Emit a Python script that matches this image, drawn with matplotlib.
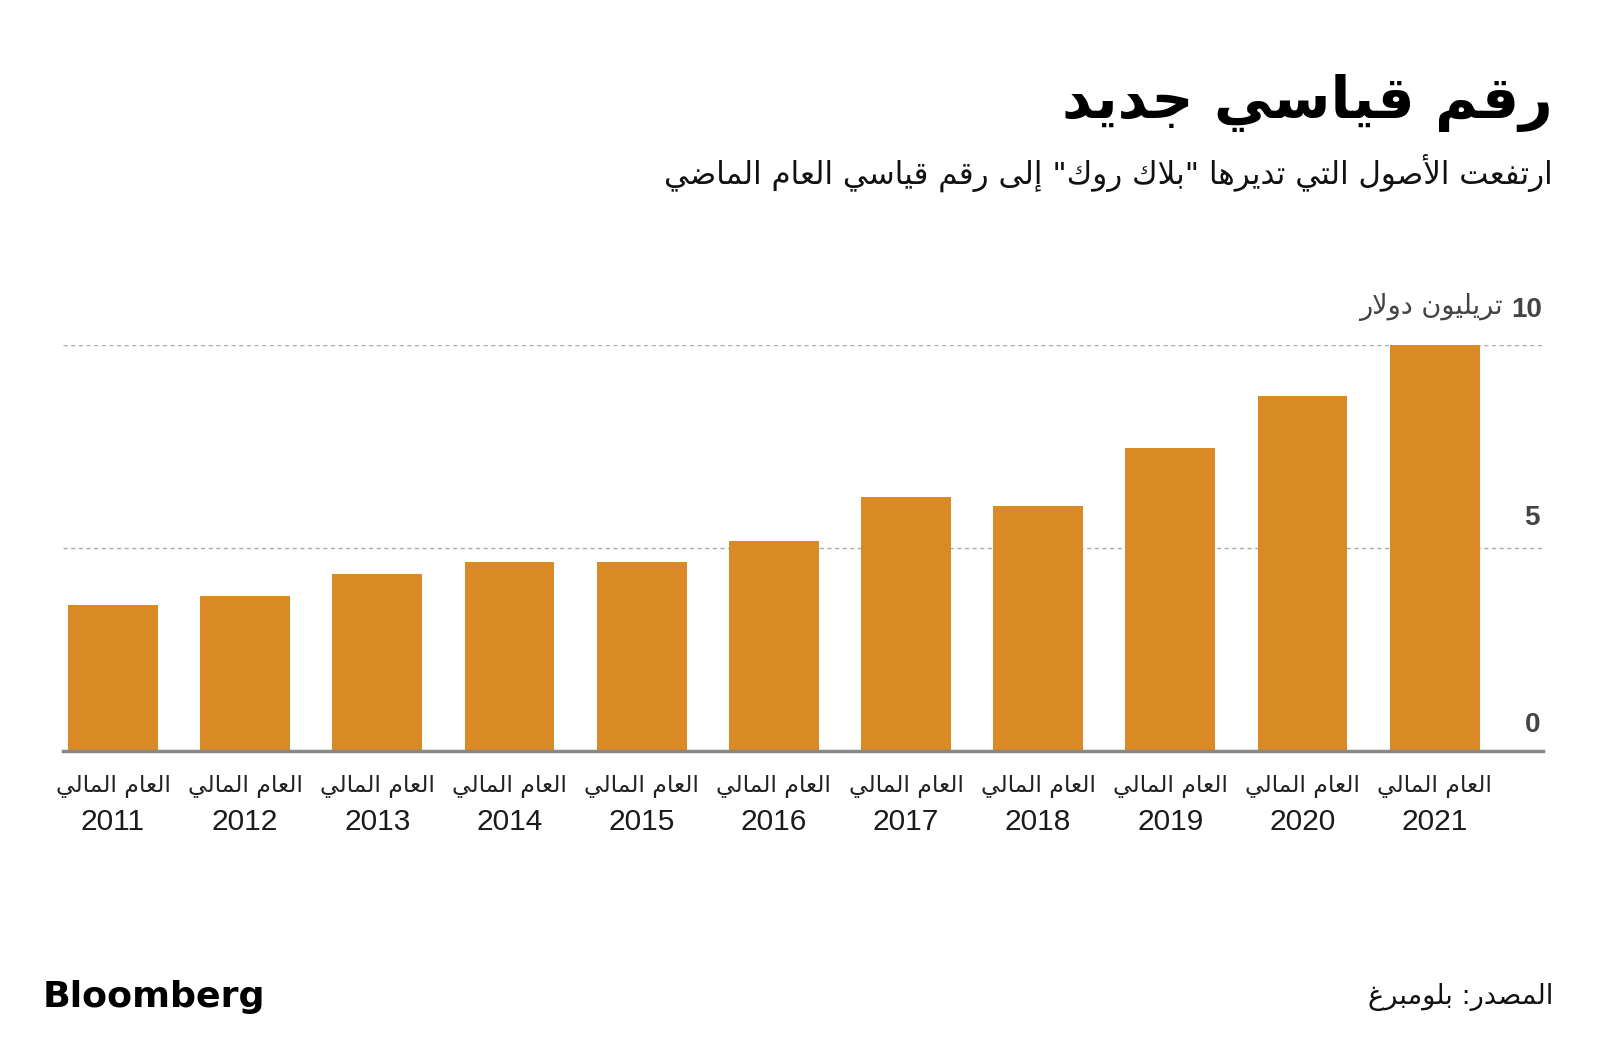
import matplotlib.pyplot as plt
from matplotlib.transforms import offset_copy

# data (trillion dollars)
years = ['2011', '2012', '2013', '2014', '2015', '2016',
         '2017', '2018', '2019', '2020', '2021']
assets = [3.59, 3.81, 4.35, 4.65, 4.65, 5.16, 6.25, 6.04, 7.46, 8.74, 10.0]
yticks = [0, 5, 10]

title = 'رقم قياسي جديد'
subtitle = 'ارتفعت الأصول التي تديرها "بلاك روك" إلى رقم قياسي العام الماضي'
unit = 'تريليون دولار'
fiscal = 'العام المالي'
source = 'المصدر: بلومبرغ'

# matplotlib does no arabic shaping, so pick the presentation forms by hand
DUAL = {'ب': 0xFE8F, 'ت': 0xFE95, 'ث': 0xFE99, 'ج': 0xFE9D, 'ح': 0xFEA1,
        'خ': 0xFEA5, 'س': 0xFEB1, 'ش': 0xFEB5, 'ص': 0xFEB9, 'ض': 0xFEBD,
        'ط': 0xFEC1, 'ظ': 0xFEC5, 'ع': 0xFEC9, 'غ': 0xFECD, 'ف': 0xFED1,
        'ق': 0xFED5, 'ك': 0xFED9, 'ل': 0xFEDD, 'م': 0xFEE1, 'ن': 0xFEE5,
        'ه': 0xFEE9, 'ي': 0xFEF1, 'ئ': 0xFE89}
RIGHT = {'آ': 0xFE81, 'أ': 0xFE83, 'ؤ': 0xFE85, 'إ': 0xFE87, 'ا': 0xFE8D,
         'ة': 0xFE93, 'د': 0xFEA9, 'ذ': 0xFEAB, 'ر': 0xFEAD, 'ز': 0xFEAF,
         'و': 0xFEED, 'ى': 0xFEEF}
LAMALEF = {'آ': 0xFEF5, 'أ': 0xFEF7, 'إ': 0xFEF9, 'ا': 0xFEFB}


def shape(s):
    units = []
    i = 0
    while i < len(s):
        if s[i] == 'ل' and i + 1 < len(s) and s[i + 1] in LAMALEF:
            units.append(('LA', s[i + 1]))
            i += 2
        else:
            units.append(('C', s[i]))
            i += 1

    def letter(u):
        return u[0] == 'LA' or u[1] in DUAL or u[1] in RIGHT

    def joins_next(u):
        return u[0] == 'C' and u[1] in DUAL

    out = []
    for k, u in enumerate(units):
        if not letter(u):
            out.append(u[1])
            continue
        a = k > 0 and joins_next(units[k - 1])
        b = k + 1 < len(units) and letter(units[k + 1]) and joins_next(u)
        if u[0] == 'LA':
            out.append(chr(LAMALEF[u[1]] + a))
        elif u[1] in RIGHT:
            out.append(chr(RIGHT[u[1]] + a))
        else:
            out.append(chr(DUAL[u[1]] + (3 if a and b else 2 if b else 1 if a else 0)))
    return ''.join(reversed(out))


W, H = 1600, 1063
fig = plt.figure(figsize=(16, 10.63), dpi=100)
fig.patch.set_facecolor('white')

def px(x, y):
    return x / W, 1 - y / H

ax = fig.add_axes([63 / W, 1 - 750.5 / H, 1480 / W, (750.5 - 345) / H])
x = list(range(len(years)))
ax.bar(x, assets, width=0.68, color='#da8a25', zorder=2)
ax.set_xlim(-0.378, 10.82)
ax.set_ylim(0, 10)

for s in ['top', 'left', 'right']:
    ax.spines[s].set_visible(False)
ax.spines['bottom'].set_color('#888888')
ax.spines['bottom'].set_linewidth(2.5)
ax.spines['bottom'].set_zorder(3)

ax.set_yticks(yticks)
ax.set_yticklabels([])
ax.tick_params(axis='y', length=0)
ax.yaxis.grid(True, color='#aaaaaa', linestyle=(0, (3, 2.5)), linewidth=1)
ax.set_axisbelow(True)

ax.set_xticks(x, years, fontsize=21.5, family='Liberation Sans', color='#1a1a1a')
ax.tick_params(axis='x', length=0, pad=41.5)

# fiscal-year line above the years
tr = offset_copy(ax.get_xaxis_transform(), fig=fig, x=0, y=-41, units='dots')
for xi in x:
    ax.text(xi, 0, shape(fiscal), transform=tr, ha='center', va='baseline',
            fontsize=16.8, color='#222222', family='DejaVu Sans')

# y labels sit above their gridline at the right edge
for v, dy in zip(yticks[:-1], [26, 30]):
    t = offset_copy(ax.get_yaxis_transform(), fig=fig, x=-3, y=dy, units='dots')
    ax.text(1.0, v, str(v), transform=t, ha='right', va='center', fontsize=20,
            fontweight='bold', color='#444444', family='Liberation Sans')
t = offset_copy(ax.get_yaxis_transform(), fig=fig, x=-1, y=35, units='dots')
ax.text(1.0, 10, '10', transform=t, ha='right', va='center', fontsize=20,
        fontweight='bold', color='#444444', family='Liberation Sans')
t = offset_copy(ax.get_yaxis_transform(), fig=fig, x=-40, y=31, units='dots')
ax.text(1.0, 10, shape(unit), transform=t, ha='right', va='baseline',
        fontsize=19.5, color='#444444', family='DejaVu Sans')

fig.text(*px(1553, 118), shape(title), ha='right', va='baseline', fontsize=42,
         fontweight='bold', color='black', family='DejaVu Sans')
fig.text(*px(1553, 184), shape(subtitle), ha='right', va='baseline', fontsize=22.3,
         color='#111111', family='DejaVu Sans')
fig.text(*px(43, 1007), 'Bloomberg', ha='left', va='baseline', fontsize=26.2,
         fontweight='bold', color='black', family='DejaVu Sans')
fig.text(*px(1553, 1004), shape(source), ha='right', va='baseline', fontsize=19.6,
         color='#111111', family='DejaVu Sans')

fig.savefig('out.png', dpi=100, facecolor='white')
